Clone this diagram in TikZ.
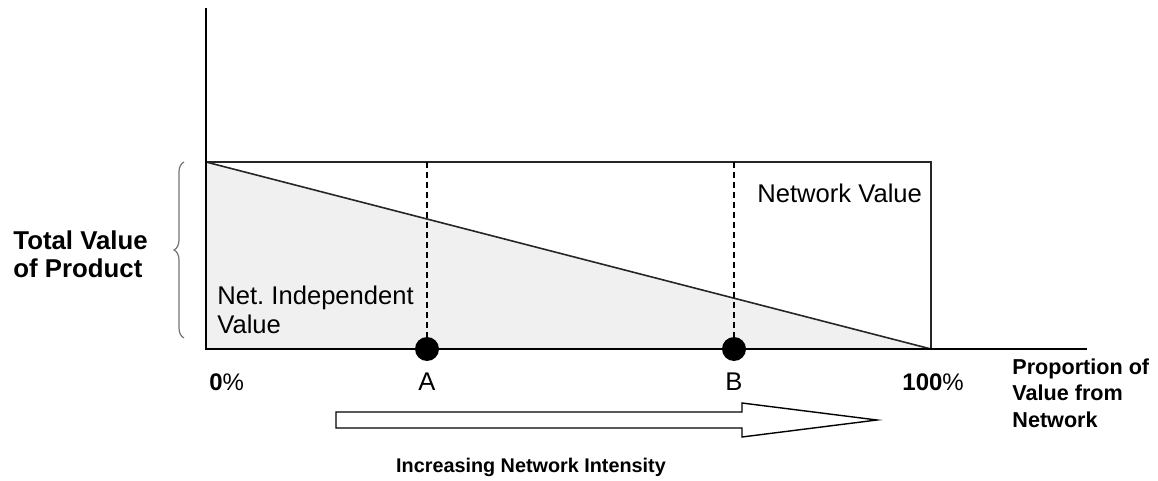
\documentclass[tikz,border=0pt]{standalone}
\usepackage{fontspec}
\setmainfont{Liberation Sans}
\usetikzlibrary{shapes, arrows, positioning, decorations.pathreplacing}

\begin{document}
\begin{tikzpicture}[x=0.5pt, y=-0.5pt]
  \tikzstyle{axis} = [draw, line width=1pt]
  \tikzstyle{frame} = [draw, line width=0.8pt, black!85]
  \tikzstyle{marker} = [circle, fill, inner sep=0pt, minimum size=12pt]
  \tikzstyle{guide} = [draw, line width=0.6pt, dash pattern=on 3pt off 2pt]
  \tikzstyle{heading} = [inner sep=0pt, align=left, font=\bfseries\fontsize{12.9}{14}\selectfont]
  \tikzstyle{tag} = [inner sep=0pt, align=left, font=\fontsize{12.8}{14}\selectfont]
  \useasboundingbox (0,0) rectangle (1158,481);
  % axes and the value box
  \coordinate (origin) at (206,349);
  \coordinate (top) at (206,162);
  \coordinate (yEnd) at (206,8);
  \coordinate (xEnd) at (1087,349);
  \coordinate (full) at (931,349);
  \coordinate (fullTop) at (931,162);
  \coordinate (topA) at (427,162);
  \coordinate (topB) at (734,162);
  \fill [gray!12] (top) -- (full) -- (origin) -- cycle;
  \path [frame] (top) -- (fullTop) -- (full);
  \path [frame] (top) -- (full);
  \path [axis] (yEnd) -- (origin) -- (xEnd);
  \node [marker] (pointA) at (427,349) {};
  \node [marker] (pointB) at (734,349) {};
  \path [guide] (topA) -- (pointA);
  \path [guide] (topB) -- (pointB);
  % brace for the total value
  \draw [black!55, line width=0.6pt, decorate, decoration={brace, amplitude=5pt}] (184,338) -- (184,162);
  % texts (base anchor sits on the last line)
  \node [heading, anchor=base west] (total) at (13,278) {Total Value\\of Product};
  \node [tag, anchor=base west] (independent) at (217,333) {\frenchspacing Net. Independent\\Value};
  \node [tag, anchor=base west] (network) at (757,203) {Network Value};
  \node [tag, anchor=base] (labelA) at (427,390) {A};
  \node [tag, anchor=base] (labelB) at (734,390) {B};
  \node [tag, anchor=base west, font=\fontsize{12}{14}\selectfont] (zero) at (209,390) {\textbf{0}\%};
  \node [tag, anchor=base west, font=\fontsize{12}{14}\selectfont] (hundred) at (902,390) {\textbf{100}\%};
  \node [heading, anchor=base west, font=\bfseries\fontsize{10.8}{13.2}\selectfont] (proportion) at (1012,427) {Proportion of\\Value from\\Network};
  % direction of growing intensity
  \draw [line width=0.7pt] (336,412) -- (742,412) -- (742,403) -- (877,420) -- (742,437) -- (742,428) -- (336,428) -- cycle;
  \node [heading, anchor=base, font=\bfseries\fontsize{9.9}{11}\selectfont] (intensity) at (531,472) {Increasing Network Intensity};
\end{tikzpicture}
\end{document}
